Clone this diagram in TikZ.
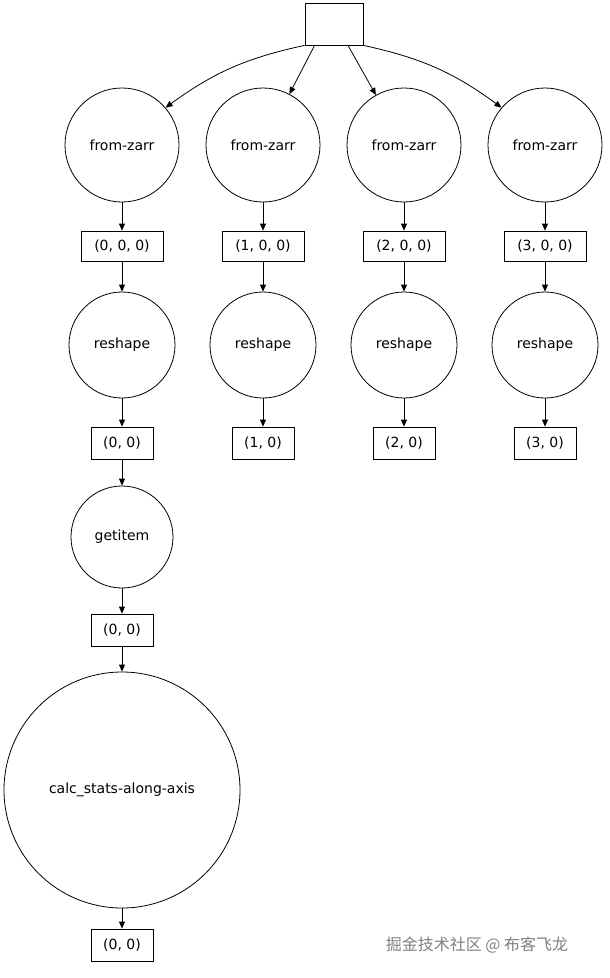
\documentclass[tikz,border=0pt]{standalone}
\usepackage{fontspec}
\setmainfont{DejaVu Sans}
\newfontfamily\cjk{Noto Sans CJK SC}
\usetikzlibrary{arrows.meta}
\begin{document}
\begin{tikzpicture}[x=1pt,y=-1pt,
  every node/.style={font=\fontsize{14}{16}\selectfont},
  op/.style={draw,circle,line width=0.8pt,inner sep=0pt},
  dat/.style={draw,rectangle,line width=0.8pt,minimum height=30pt,inner sep=0pt},
  ar/.style={draw,line width=0.8pt,-{Triangle[length=7pt,width=6pt]}}]
\useasboundingbox (0,0) rectangle (610,978);
\node[dat,minimum width=58pt,minimum height=42pt] (top) at (334,24) {};
\foreach \i/\x in {0/122,1/263,2/404,3/545}{
  \node[op,minimum size=114pt] (fz\i) at (\x,145) {from-zarr};
  \node[dat,minimum width=82pt] (b\i) at (\x,246) {(\i, 0, 0)};
  \node[op,minimum size=106pt] (rs\i) at (\x,345) {reshape};
  \node[dat,minimum width=62pt,minimum height=32pt] (c\i) at (\x,443) {(\i, 0)};
  \draw[ar] (fz\i) -- (b\i);
  \draw[ar] (b\i) -- (rs\i);
  \draw[ar] (rs\i) -- (c\i);
}
\draw[ar] (top.south west) to[bend right=12] (fz0);
\draw[ar] (top.south west) ++(10,0) -- (fz1);
\draw[ar] (top.south) ++(14,0) -- (fz2);
\draw[ar] (top.south east) to[bend left=12] (fz3);
\node[op,minimum size=102pt] (gi) at (122,537) {getitem};
\node[dat,minimum width=62pt,minimum height=32pt] (d) at (122,630) {(0, 0)};
\node[op,minimum size=236pt] (cs) at (122,790) {calc\_stats-along-axis};
\node[dat,minimum width=62pt,minimum height=32pt] (e) at (122,945) {(0, 0)};
\draw[ar] (c0) -- (gi);
\draw[ar] (gi) -- (d);
\draw[ar] (d) -- (cs);
\draw[ar] (cs) -- (e);
\node[text=gray,font=\cjk\fontsize{16}{18}\selectfont] (wm) at (477,945) {掘金技术社区 @ 布客飞龙};
\end{tikzpicture}
\end{document}
